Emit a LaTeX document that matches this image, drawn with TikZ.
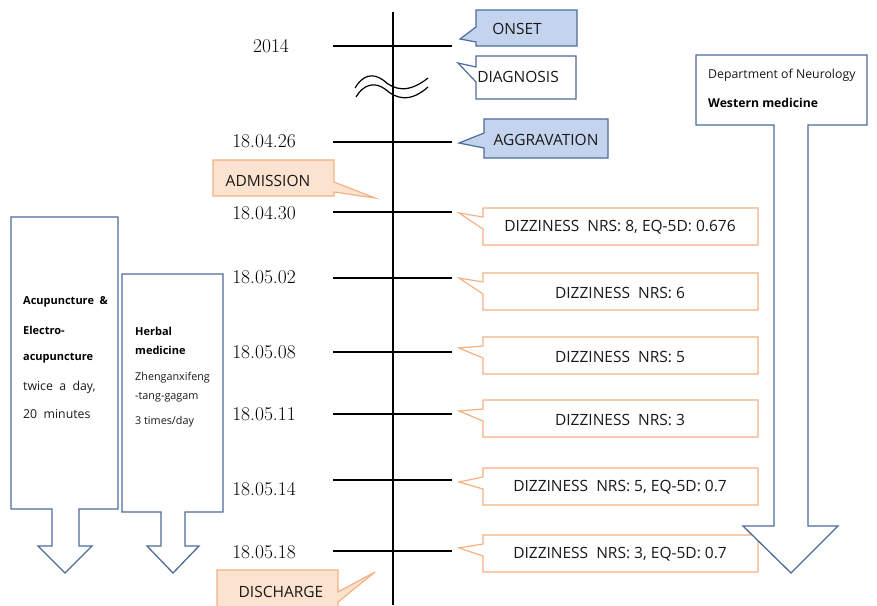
\documentclass[tikz,border=0pt]{standalone}
\usepackage{fontspec}
\newfontfamily\labfont{Open Sans}
\begin{document}
\begin{tikzpicture}[x=1pt,y=-1pt,
  blueline/.style={draw=arrowblue,line width=1.3pt,line join=miter},
  bluecall/.style={draw=arrowblue,fill=calloutblue,line width=1.2pt},
  whitecall/.style={draw=arrowblue,fill=white,line width=1.2pt},
  orangecall/.style={draw=orangeline,fill=white,line width=1.2pt},
  peachcall/.style={draw=orangeline,fill=peach,line width=1.2pt},
  tick/.style={line width=1.8pt,black},
  datelabel/.style={font=\fontsize{19.5}{22}\selectfont,inner sep=0pt},
  calltext/.style={font=\labfont\fontsize{15.5}{18}\selectfont,inner sep=0pt,text=black!90},
  sidetext/.style={font=\labfont\fontsize{12.3}{14}\selectfont,inner sep=0pt,anchor=west,text=black!90},
  sidebold/.style={sidetext,font=\labfont\bfseries\fontsize{11}{13}\selectfont,text=black},
  herbtext/.style={sidetext,font=\labfont\fontsize{10.8}{13}\selectfont}
]
\definecolor{arrowblue}{HTML}{4E6C9A}
\definecolor{calloutblue}{HTML}{C5D4EE}
\definecolor{orangeline}{HTML}{F4B183}
\definecolor{peach}{HTML}{FBE3CF}
\useasboundingbox (0,0) rectangle (877,605);
\fill[white] (0,0) rectangle (877,605);

% timeline
\draw[line width=2pt] (393,12) -- (393,605);
\foreach \y in {46,142,212,278,352,414,480,551}{
  \draw[tick] (333,\y) -- (452,\y);
}
% break mark
\draw[line width=1.2pt] (355,88) .. controls (362,76) and (372,72) .. (383,80)
  .. controls (394,90) and (408,94) .. (428,78);
\draw[line width=1.2pt] (356,97) .. controls (363,85) and (374,81) .. (385,89)
  .. controls (396,99) and (410,103) .. (428,87);

% date labels
\node[datelabel] (d0) at (271,46) {2014};
\node[datelabel] (d1) at (264,141) {18.04.26};
\node[datelabel] (d2) at (264,213) {18.04.30};
\node[datelabel] (d3) at (264,277) {18.05.02};
\node[datelabel] (d4) at (264,352) {18.05.08};
\node[datelabel] (d5) at (264,414) {18.05.11};
\node[datelabel] (d6) at (264,489) {18.05.14};
\node[datelabel] (d7) at (264,552) {18.05.18};

% blue callouts
\draw[bluecall] (476,10) -- (577,10) -- (577,46) -- (476,46) -- (476,42) -- (460,39) -- (476,27) -- cycle;
\node[calltext] (onset) at (517,29) {ONSET};
\draw[whitecall] (476,56) -- (576,56) -- (576,99) -- (476,99) -- (476,82) -- (458,63) -- (476,67) -- cycle;
\node[calltext] (diag) at (518,77) {DIAGNOSIS};
\draw[bluecall] (484,119) -- (608,119) -- (608,158) -- (484,158) -- (484,148) -- (459,143) -- (484,133) -- cycle;
\node[calltext] (aggr) at (546,140) {AGGRAVATION};

% admission / discharge
\draw[peachcall] (213,160) -- (334,160) -- (334,182) -- (375,198) -- (334,192) -- (334,196) -- (213,196) -- cycle;
\node[calltext] (adm) at (268,181) {ADMISSION};
\begin{scope}
\clip (0,0) rectangle (877,605);
\draw[peachcall] (217,570) -- (338,570) -- (338,592) -- (375,572) -- (338,602) -- (338,620) -- (217,620) -- cycle;
\end{scope}
\node[calltext] (dis) at (281,592) {DISCHARGE};

% right callouts
\foreach \t/\tip/\txt/\nm in {
  208/213/{DIZZINESS\ \ NRS:\ 8, EQ-5D: 0.676}/c1,
  273/278/{DIZZINESS\ \ NRS:\ 6}/c2,
  337/348/{DIZZINESS\ \ NRS:\ 5}/c3,
  400/411/{DIZZINESS\ \ NRS:\ 3}/c4,
  468/482/{DIZZINESS\ \ NRS:\ 5, EQ-5D: 0.7}/c5,
  535/548/{DIZZINESS\ \ NRS:\ 3, EQ-5D: 0.7}/c6}{
  \draw[orangecall] (483,\t) -- (758,\t) -- (758,\t+37) -- (483,\t+37) -- (483,\t+21) -- (459,\tip) -- (483,\t+9) -- cycle;
  \node[calltext] (\nm) at (620,\t+19.5) {\txt};
}

% left arrows
\draw[blueline,fill=white] (11,217) -- (118,217) -- (118,509) -- (79,509) -- (79,546) -- (92,546) -- (65,573) -- (38,546) -- (52,546) -- (52,509) -- (11,509) -- cycle;
\node[sidebold] (a1) at (23,302) {Acupuncture\ \ \&};
\node[sidebold] (a2) at (23,330) {Electro-};
\node[sidebold] (a3) at (23,358) {acupuncture};
\node[sidetext] (a4) at (23,387) {twice\ \ a\ \ day,};
\node[sidetext] (a5) at (23,414) {20\ \ minutes};

\draw[blueline,fill=white] (122,274) -- (223,274) -- (223,512) -- (185,512) -- (185,546) -- (199,546) -- (173,573) -- (147,546) -- (161,546) -- (161,512) -- (122,512) -- cycle;
\node[sidebold] (h1) at (135,331) {Herbal};
\node[sidebold] (h2) at (135,350) {medicine};
\node[herbtext] (h3) at (135,378) {Zhenganxifeng};
\node[herbtext] (h4) at (135,397) {-tang-gagam};
\node[herbtext] (h5) at (135,422) {3 times/day};

% right arrow
\draw[blueline,fill=white] (696,55) -- (867,55) -- (867,125) -- (808,125) -- (808,526) -- (838,526) -- (791,573) -- (743,526) -- (774,526) -- (774,125) -- (696,125) -- cycle;
\node[sidetext] (w1) at (708,75) {Department of Neurology};
\node[sidebold,font=\labfont\bfseries\fontsize{12.2}{14}\selectfont] (w2) at (708,103) {Western medicine};
\end{tikzpicture}
\end{document}
